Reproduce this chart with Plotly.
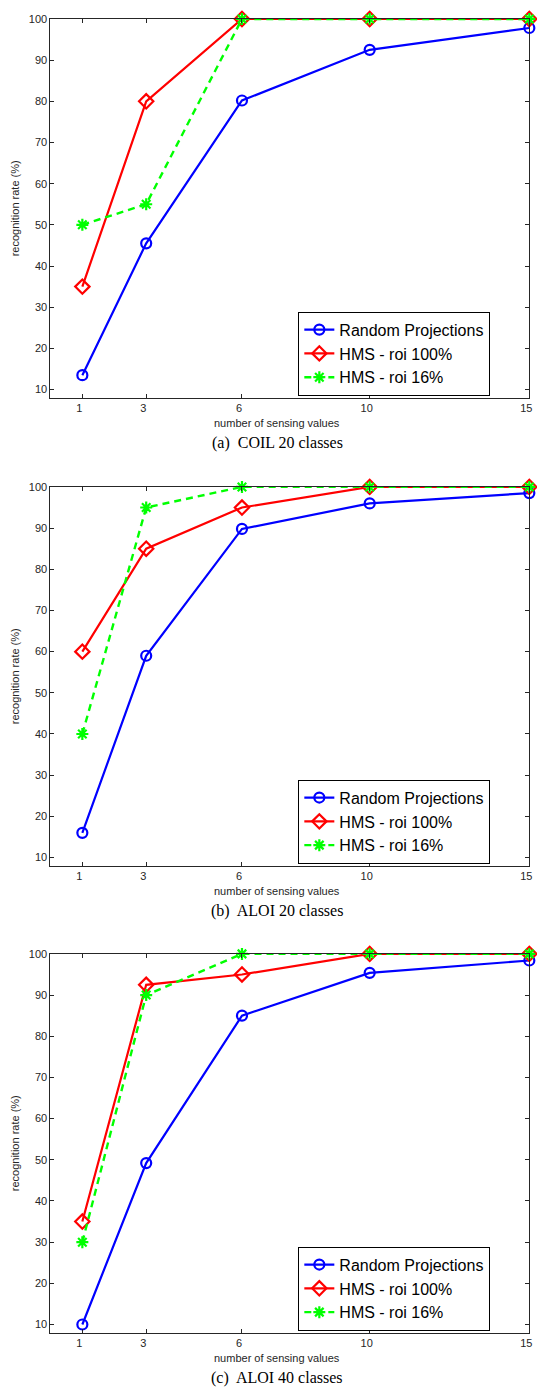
import plotly.graph_objects as go

# ---------------- data ----------------
sensing_values = [1, 3, 6, 10, 15]
x_ticks = [1, 3, 6, 10, 15]
y_ticks = [10, 20, 30, 40, 50, 60, 70, 80, 90, 100]
series_names = ["Random Projections", "HMS - roi 100%", "HMS - roi 16%"]
captions = ["(a)  COIL 20 classes", "(b)  ALOI 20 classes", "(c)  ALOI 40 classes"]

coil20_rp = [13.5, 45.5, 80.2, 92.5, 97.8]
coil20_hms100 = [35, 80, 100, 100, 100]
coil20_hms16 = [50, 55, 100, 100, 100]

aloi20_rp = [16, 59, 89.8, 96, 98.5]
aloi20_hms100 = [60, 85, 95, 100, 100]
aloi20_hms16 = [40, 95, 100, 100, 100]

aloi40_rp = [10, 49.2, 85, 95.4, 98.4]
aloi40_hms100 = [35, 92.5, 95, 100, 100]
aloi40_hms16 = [30, 90, 100, 100, 100]

panels = [
    (coil20_rp, coil20_hms100, coil20_hms16),
    (aloi20_rp, aloi20_hms100, aloi20_hms16),
    (aloi40_rp, aloi40_hms100, aloi40_hms16),
]

# ---------------- layout geometry (pixels) ----------------
W, H = 537, 1392
plot_left, plot_right = 50.7, 532.3
panel_tops = [13, 483, 952]
panel_h = 380.5


def py(pix):
    return 1 - pix / H


def px(pix):
    return pix / W


styles = [
    dict(color="#0000ff", dash="solid", symbol="circle-open", size=10, lw=2.2),
    dict(color="#ff0000", dash="solid", symbol="diamond-open", size=11, lw=2.2),
    dict(color="#00ff00", dash="7px,5px", symbol="asterisk-open", size=10, lw=2.4),
]

fig = go.Figure()
annotations = []
layout = dict(
    width=W, height=H, margin=dict(l=0, r=0, t=0, b=0),
    paper_bgcolor="white", plot_bgcolor="white", showlegend=True,
)

FONT = "Liberation Sans, Arial, sans-serif"

for i, data in enumerate(panels):
    n = "" if i == 0 else str(i + 1)
    top = panel_tops[i]
    bottom = top + panel_h
    legname = "legend" + n
    for j, vals in enumerate(data):
        st = styles[j]
        fig.add_trace(go.Scatter(
            x=sensing_values, y=vals, name=series_names[j], mode="lines+markers",
            xaxis="x" + n, yaxis="y" + n, legend=legname, cliponaxis=False,
            line=dict(color=st["color"], width=st["lw"], dash=st["dash"]),
            marker=dict(symbol=st["symbol"], size=st["size"], color=st["color"],
                        line=dict(color=st["color"], width=2.2)),
        ))
    layout["xaxis" + n] = dict(
        domain=[px(plot_left), px(plot_right)], anchor="y" + n,
        range=[0, 15], tickvals=x_ticks, ticks="inside", ticklen=4,
        tickcolor="#262626", showline=True, linecolor="#262626", linewidth=1,
        mirror="ticks", showgrid=False, zeroline=False,
        ticklabelshift=-3, ticklabeloverflow="allow",
        tickfont=dict(family=FONT, size=11, color="#262626"),
    )
    layout["yaxis" + n] = dict(
        domain=[py(bottom), py(top)], anchor="x" + n,
        range=[8, 100], tickvals=y_ticks, ticks="inside", ticklen=4,
        tickcolor="#262626", showline=True, linecolor="#262626", linewidth=1,
        mirror="ticks", showgrid=False, zeroline=False,
        tickfont=dict(family=FONT, size=11, color="#262626"),
    )
    layout[legname] = dict(
        x=px(300), y=py(top + 294), xanchor="left", yanchor="top",
        bordercolor="#000000", borderwidth=1, bgcolor="white",
        font=dict(family=FONT, size=16, color="#000000"),
        tracegroupgap=0, itemwidth=30,
    )
    annotations.append(dict(
        text="number of sensing values", x=px(279), y=py(bottom + 25),
        xref="paper", yref="paper", showarrow=False, xanchor="center", yanchor="middle",
        font=dict(family=FONT, size=11, color="#262626"),
    ))
    annotations.append(dict(
        text="recognition rate (%)", x=px(15), y=py(top + panel_h / 2),
        xref="paper", yref="paper", showarrow=False, textangle=-90,
        xanchor="center", yanchor="middle",
        font=dict(family=FONT, size=11, color="#262626"),
    ))
    annotations.append(dict(
        text=captions[i], x=px(279), y=py(bottom + 45),
        xref="paper", yref="paper", showarrow=False, xanchor="center", yanchor="middle",
        font=dict(family="Liberation Serif, Times New Roman, serif", size=16, color="#000000"),
    ))

layout["annotations"] = annotations
fig.update_layout(**layout)
fig.write_html("out.html")
